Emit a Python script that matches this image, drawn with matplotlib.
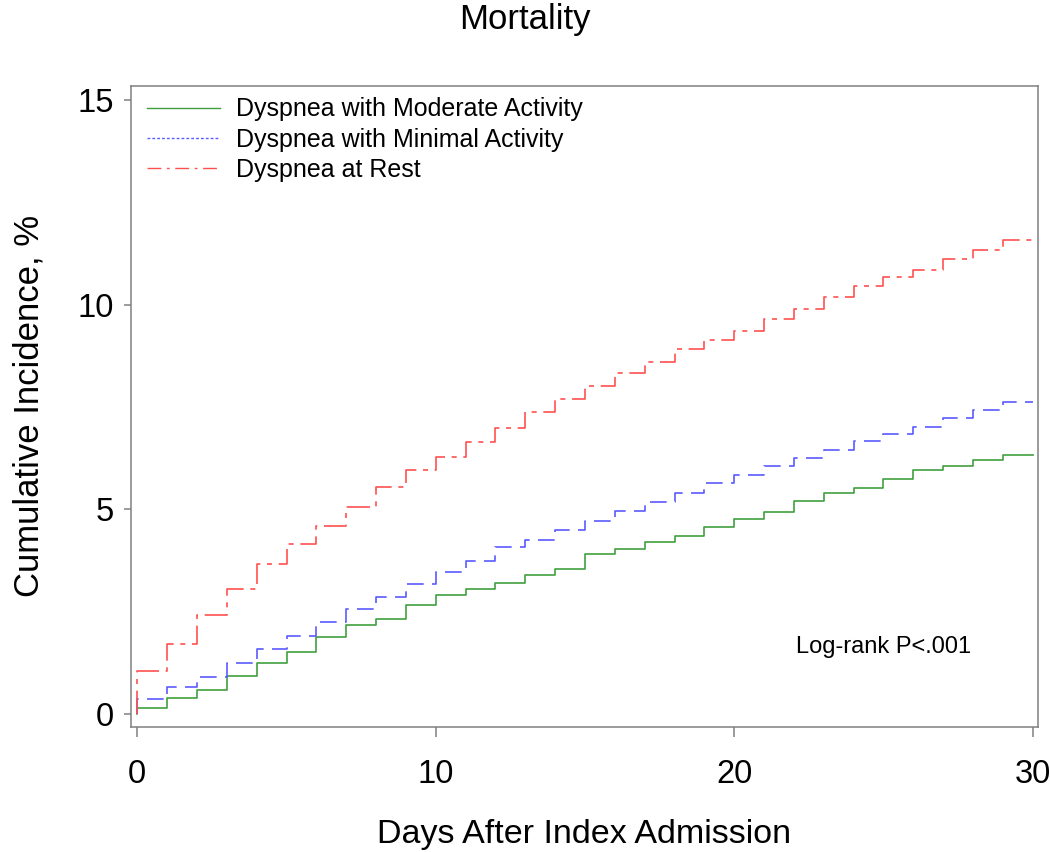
import matplotlib
matplotlib.use("Agg")
from matplotlib import pyplot as plt
from matplotlib.lines import Line2D

plt.rcParams['font.family'] = ['Liberation Sans', 'DejaVu Sans']

# day 0 starts at 0, then value held from day i to i+1
days = [0] + list(range(0, 31))

moderate = [0, 0.14, 0.40, 0.59, 0.93, 1.25, 1.51, 1.89, 2.18, 2.32, 2.67,
            2.92, 3.06, 3.19, 3.40, 3.55, 3.92, 4.03, 4.21, 4.34, 4.56,
            4.77, 4.94, 5.21, 5.39, 5.52, 5.75, 5.96, 6.06, 6.20, 6.32, 6.32]
minimal = [0, 0.37, 0.67, 0.91, 1.25, 1.60, 1.90, 2.24, 2.56, 2.85, 3.17,
           3.46, 3.75, 4.07, 4.25, 4.50, 4.72, 4.96, 5.19, 5.40, 5.64,
           5.84, 6.06, 6.26, 6.45, 6.68, 6.85, 7.02, 7.24, 7.43, 7.62, 7.62]
rest = [0, 1.05, 1.72, 2.41, 3.05, 3.66, 4.15, 4.60, 5.07, 5.56, 5.97,
        6.29, 6.64, 6.98, 7.38, 7.69, 8.02, 8.33, 8.61, 8.91, 9.13,
        9.37, 9.65, 9.89, 10.20, 10.47, 10.69, 10.86, 11.12, 11.34, 11.58, 11.58]

labels = ['Dyspnea with Moderate Activity', 'Dyspnea with Minimal Activity', 'Dyspnea at Rest']
colors = ['#3f9f3f', '#5a5aff', '#ff5050']

fig = plt.figure(figsize=(10.5, 8.52), dpi=100)
ax = fig.add_axes([0.1245, 0.1471, 0.8641, 0.752])

ax.step(days, moderate, where='post', color=colors[0], lw=1.2)
ax.step(days, minimal, where='post', color=colors[1], lw=1.2, dashes=(10, 5))
ax.step(days, rest, where='post', color=colors[2], lw=1.2, dashes=(14, 4, 3, 4))

ax.set_xlim(-0.22, 30.18)
ax.set_ylim(-0.31, 15.35)
ax.set_xticks([0, 10, 20, 30])
ax.set_yticks([0, 5, 10, 15])

for s in ax.spines.values():
    s.set_color('#808080')
    s.set_linewidth(1.1)
ax.tick_params(axis='x', colors='#808080', length=7, width=1.1, pad=16, labelsize=23.5, labelcolor='black')
ax.tick_params(axis='y', colors='#808080', length=5, width=1.1, pad=7, labelsize=23.5, labelcolor='black')

ax.set_xlabel('Days After Index Admission', fontsize=24.5, labelpad=21)
ax.set_ylabel('Cumulative Incidence, %', fontsize=25, labelpad=23)

fig.text(0.5, 1 - 19 / 852, 'Mortality', ha='center', va='center', fontsize=25)

ax.text(0.733, 0.115, 'Log-rank P<.001', transform=ax.transAxes, fontsize=17, va='baseline')

handles = [
    Line2D([], [], color=colors[0], lw=1.0),
    Line2D([], [], color=colors[1], lw=1.0, dashes=(2, 1.5)),
    Line2D([], [], color=colors[2], lw=1.0, dashes=(10, 4, 2, 4)),
]
ax.legend(handles, labels, loc='upper left', bbox_to_anchor=(0.018, 0.982),
          frameon=False, fontsize=18, handlelength=2.9, handletextpad=0.65,
          labelspacing=0.25, borderpad=0, borderaxespad=0)

plt.savefig('out.png', dpi=100)
